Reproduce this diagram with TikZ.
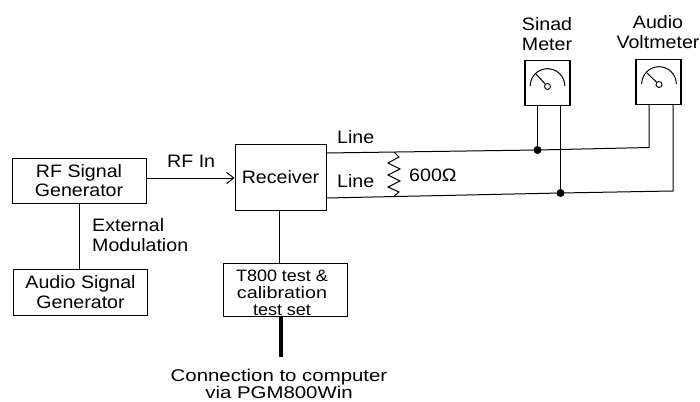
\documentclass[tikz,border=0pt]{standalone}
\usepackage{fontspec}
\usetikzlibrary{arrows.meta}
\setmainfont[FakeStretch=1.09]{Liberation Sans}
\newfontfamily\widefont[FakeStretch=1.2]{Liberation Sans}
\begin{document}
\begin{tikzpicture}[x=1pt,y=-1pt,
  boxnode/.style={draw=black,line width=1pt,inner sep=0pt,align=center,font=\fontsize{18}{19.5}\selectfont},
  txt/.style={inner sep=0pt,align=center,font=\fontsize{18}{19.5}\selectfont},
  widetxt/.style={inner sep=0pt,align=center,font=\widefont\fontsize{17}{17.5}\selectfont},
  wire/.style={line width=1pt,black},
  dotnode/.style={circle,fill=black,inner sep=0pt,minimum size=8pt},
  meterbox/.style={draw=black,line width=1.2pt,minimum width=45pt,minimum height=45pt,inner sep=0pt},
  pivot/.style={circle,draw=black,line width=0.9pt,inner sep=0pt,minimum size=6pt}]
\useasboundingbox (0,0) rectangle (700,401);
\node[boxnode,minimum width=134pt,minimum height=45pt] (rf) at (79,180.5) {RF Signal\\Generator};
\node[boxnode,minimum width=134pt,minimum height=46pt] (audio) at (80.5,292) {Audio Signal\\Generator};
\node[boxnode,minimum width=91pt,minimum height=66pt] (rx) at (280.5,177) {Receiver};
\node[boxnode,line width=0.8pt,minimum width=124pt,minimum height=53pt,font=\fontsize{16.5}{17}\selectfont] (t8) at (285,289.5) {\rule{0pt}{18pt}\hspace*{-6pt}T800 test \&\\\hspace*{-6pt}{\widefont calibration}\\\hspace*{-6pt}test set};
\node[meterbox] (sinad) at (547.5,83) {};
\node[meterbox] (volt) at (658.5,82) {};
\node[txt] (lsinad) at (547,34) {Sinad\\Meter};
\node[txt] (lvolt) at (658,32) {Audio\\Voltmeter};
\node[txt,anchor=west] (lrf) at (167,161) {RF In};
\node[txt,anchor=west,align=left] (lext) at (92,235) {External\\Modulation};
\node[txt,anchor=west] (ltop) at (337,137) {Line};
\node[txt,anchor=west] (lbot) at (337,181) {Line};
\node[txt,anchor=west] (lohm) at (409,175) {600Ω};
\node[widetxt] (lconn) at (279,384) {Connection to computer\\via PGM800Win};
\coordinate (tl) at (326,153);
\coordinate (bl) at (326,198);
\node[dotnode] (d1) at (537.5,150) {};
\node[dotnode] (d2) at (560.5,193) {};
\coordinate (vt) at (649,147.5);
\coordinate (vb) at (673,191);
\coordinate (r1) at (394,152);
\coordinate (r2) at (394,196.5);
\coordinate (cend) at (281,357);
% connectors
\draw[wire,-{Straight Barb[length=7pt,width=11pt]}] (rf.east |- 0,178) -- (rx.west |- 0,178);
\draw[wire] (rf.south -| 79.5,0) -- (audio.north -| 79.5,0);
\draw[line width=0.7pt] (rx.south -| 279,0) -- (t8.north -| 279,0);
\draw[line width=4pt] (t8.south -| cend) -- (cend);
\draw[wire] (tl) -- (d1.center) -- (vt) -- (vt |- volt.south);
\draw[wire] (bl) -- (d2.center) -- (vb) -- (vb |- volt.south);
\draw[wire] (sinad.south -| d1) -- (d1);
\draw[wire] (sinad.south -| d2) -- (d2);
\draw[wire] (r1) -- (399,157) -- (388,163) -- (400,169) -- (388,175) -- (400,181) -- (388,187) -- (399,192) -- (r2);
% meter faces
\node[pivot] (p1) at (547.5,86.5) {};
\node[pivot] (p2) at (659,84.5) {};
\coordinate (n1) at (536,74);
\coordinate (n2) at (647,73);
\draw[line width=1pt] (530.2,86) arc[start angle=180,end angle=0,radius=17.3pt];
\draw[line width=1pt] (641.7,84) arc[start angle=180,end angle=0,radius=17.3pt];
\draw[line width=1pt] (p1) -- (n1);
\draw[line width=1pt] (p2) -- (n2);
\end{tikzpicture}
\end{document}
